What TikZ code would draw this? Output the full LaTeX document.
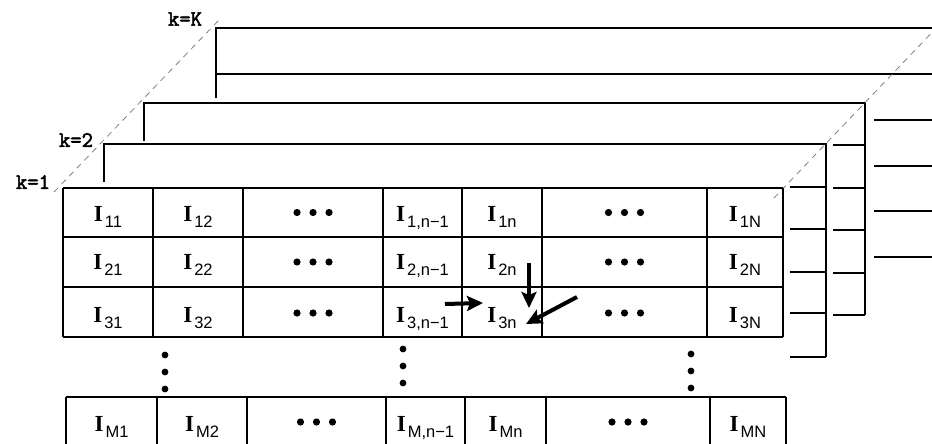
\documentclass[tikz,border=0pt]{standalone}
\usepackage{fontspec}
\setmainfont{Liberation Serif}
\newfontfamily\subfnt{Liberation Sans}
\newfontfamily\kfnt[FakeBold=2.5]{Latin Modern Mono}
\usepackage{tikz}
\usetikzlibrary{arrows.meta, positioning}

% pixel label I_{..}
\newcommand{\Ilbl}[1]{{\fontsize{23}{23}\selectfont\bfseries I}\kern2pt\raisebox{-6pt}{\subfnt\fontsize{16.5}{16.5}\selectfont #1}}

\begin{document}
\begin{tikzpicture}[
			x=1pt, y=-1pt,
			grid/.style={line width=1.5pt},
			guide/.style={gray, line width=0.8pt, dash pattern=on 6pt off 5pt},
			lbl/.style={inner sep=0pt, anchor=base},
			klbl/.style={inner sep=0pt, font=\kfnt\fontsize{22}{22}\selectfont},
			dot/.style={fill=black},
			arrow/.style={line width=4pt, -{Stealth[length=16pt, width=15pt, inset=3pt]}}
			]
			\useasboundingbox (0,0) rectangle (932,444);
			\clip (0,0) rectangle (932,444);
			
			% Capas traseras (k=K, k=3, k=2)
			\draw[grid] (216,98) -- (216,28) -- (940,28);
			\draw[grid] (216,74) -- (940,74);
			\foreach \y in {120,166,211,257}
			\draw[grid] (874,\y) -- (940,\y);
			
			\draw[grid] (144,141) -- (144,103) -- (865,103) -- (865,315);
			\foreach \y in {145,188,230,273,315}
			\draw[grid] (833,\y) -- (865,\y);
			
			\draw[grid] (104,182) -- (104,144) -- (826,144) -- (826,357);
			\foreach \y in {187,229,272,313,357}
			\draw[grid] (790,\y) -- (826,\y);
			
			% Guias diagonales
			\draw[guide] (54,192) -- (218,21);
			\draw[guide] (774,198) -- (940,24);
			
			% Etiquetas de capa
			\node[klbl] (k1) at (33,182) {k=1};
			\node[klbl] (k2) at (76,140) {k=2};
			\node[klbl] (kK) at (185,19) {k=K};
			
			% Rejilla frontal (filas 1..3)
			\foreach \x in {63,153,243,383,462,542,707,783}
			\draw[grid] (\x,188) -- (\x,337);
			\foreach \y in {188,237,287,337}
			\draw[grid] (63,\y) -- (783,\y);
			
			\foreach \r/\y in {1/221.5, 2/269, 3/322}{
				\node[lbl] (I\r-1) at (108,\y) {\Ilbl{\r1}};
				\node[lbl] (I\r-2) at (198,\y) {\Ilbl{\r2}};
				\node[lbl] (I\r-4) at (422.5,\y) {\Ilbl{\r,n−1}};
				\node[lbl] (I\r-5) at (502,\y) {\Ilbl{\r n}};
				\node[lbl] (I\r-7) at (745,\y) {\Ilbl{\r N}};
			}
			\foreach \y in {212.5,262,313}
			\foreach \x in {313,624.5}
			\foreach \dx in {-16,0,16}
			\fill[dot] (\x+\dx,\y) circle (3.6pt);
			
			% Puntos verticales
			\foreach \x/\y in {165/355, 403/349, 691/354}
			\foreach \dy in {0,17,34}
			\fill[dot] (\x,\y+\dy) circle (3.4pt);
			
			% Fila M
			\draw[grid] (66,397) -- (786,397);
			\foreach \x in {66,157,247,386,465,546,710,786}
			\draw[grid] (\x,397) -- (\x,450);
			\node[lbl] (IM-1) at (111.5,431) {\Ilbl{M1}};
			\node[lbl] (IM-2) at (202,431) {\Ilbl{M2}};
			\node[lbl] (IM-4) at (425.5,431) {\Ilbl{M,n−1}};
			\node[lbl] (IM-5) at (505.5,431) {\Ilbl{Mn}};
			\node[lbl] (IM-7) at (748,431) {\Ilbl{MN}};
			\foreach \x in {316.5,628}
			\foreach \dx in {-16,0,16}
			\fill[dot] (\x+\dx,422) circle (3.6pt);
			
			% Vecinos de I_3n
			\coordinate (fromL) at (445,304);
			\coordinate (fromT) at (529,263);
			\coordinate (fromD) at (577,297);
			\coordinate (toL) at (483,303);
			\coordinate (toT) at (529,308);
			\coordinate (toD) at (526,324);
			\draw[arrow] (fromL) -- (toL);
			\draw[arrow] (fromT) -- (toT);
			\draw[arrow] (fromD) -- (toD);
			
		\end{tikzpicture}
\end{document}
